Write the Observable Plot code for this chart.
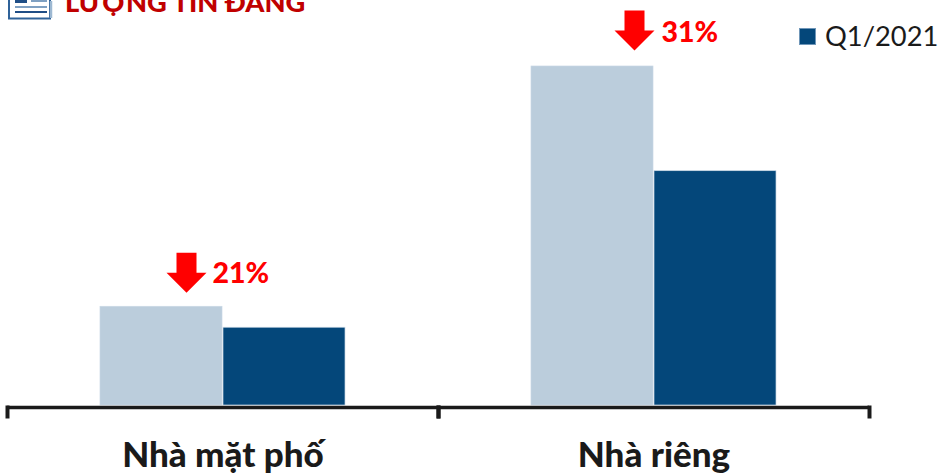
<!DOCTYPE html>
<html><head><meta charset="utf-8">
<script src="https://cdn.jsdelivr.net/npm/d3@7"></script>
<script src="https://cdn.jsdelivr.net/npm/@observablehq/plot@0.6"></script>
<style>
html,body{margin:0;padding:0;background:#fff;overflow:hidden}
#wrap{position:relative;width:943px;height:475px;overflow:hidden}
svg{display:block}
#title{position:absolute;left:65px;top:-14px;font:900 27.3px/32px Lato,"Noto Sans",sans-serif;color:#c00000;white-space:nowrap}
#legend{position:absolute;left:799px;top:19px;display:flex;align-items:center;font:27.3px/34px Lato,"Noto Sans",sans-serif;color:#1a1a1a;white-space:nowrap}
#legend i{display:block;width:15px;height:15px;background:#04477a;border:1px solid #6f96b8;margin-right:9px}
#icon{position:absolute;left:8px;top:-5px}
</style></head><body>
<div id="wrap">
<div id="chart"></div>
<svg id="icon" width="46" height="25" viewBox="0 0 46 25">
  <rect x="1" y="0" width="41" height="23.5" fill="#fff" stroke="#2f6299" stroke-width="2"/>
  <path d="M43 6v17" stroke="#9db8d2" stroke-width="2.5"/>
  <rect x="7" y="4" width="12" height="4" fill="#1f4e86"/>
  <path d="M23 6h16" stroke="#7fa0c2" stroke-width="2"/>
  <path d="M7 12h32" stroke="#7fa0c2" stroke-width="2"/>
  <path d="M7 17h32" stroke="#1f4e86" stroke-width="2"/>
</svg>
<div id="title">LƯỢNG TIN ĐĂNG</div>
<div id="legend"><i></i>Q1/2021</div>
</div>
<script>
const categories = ["Nhà mặt phố", "Nhà riêng"];
const periods = ["Kỳ trước", "Q1/2021"];
const previousValues = [99, 340];
const currentValues = [78, 235];
const changeLabels = ["21%", "31%"];
const periodColors = ["#bbcddc", "#04477a"];

const font = 'Lato, "Noto Sans", sans-serif';
const rows = categories.flatMap((c, i) => [
  {category: c, period: periods[0], value: previousValues[i]},
  {category: c, period: periods[1], value: currentValues[i]}
]);
const changes = categories.map((c, i) => ({
  category: c, period: periods[0], value: previousValues[i], label: changeLabels[i]
}));

const arrowSymbol = {draw(ctx) {
  ctx.moveTo(-10, -20); ctx.lineTo(10, -20); ctx.lineTo(10, 0); ctx.lineTo(20, 0);
  ctx.lineTo(0, 20); ctx.lineTo(-20, 0); ctx.lineTo(-10, 0); ctx.closePath();
}};
const tickSymbol = {draw(ctx) {
  ctx.moveTo(-2, 0); ctx.lineTo(2, 0); ctx.lineTo(2, 13); ctx.lineTo(-2, 13); ctx.closePath();
}};
const axisInk = "#1a1a1a";

function changeMarks(category, arrowDx, arrowDy, textDx, textDy) {
  const data = changes.filter(d => d.category === category);
  return [
    Plot.dot(data, {fx: "category", x: "period", y: "value", symbol: arrowSymbol, r: 20, fill: "#ff0000", stroke: null, dx: arrowDx, dy: arrowDy}),
    Plot.text(data, {fx: "category", x: "period", y: "value", text: "label", fill: "#ff0000", fontSize: 28.5, fontWeight: 900, fontFamily: font, textAnchor: "start", dx: textDx, dy: textDy})
  ];
}

const plot = Plot.plot({
  width: 943, height: 475,
  marginTop: 0, marginBottom: 70, marginLeft: 7, marginRight: 74,
  style: {background: "transparent"},
  fx: {domain: categories, padding: 0, label: null},
  x: {domain: periods, paddingInner: 0.008, paddingOuter: 0.745, axis: null, label: null},
  y: {domain: [0, 340], range: [405, 66], axis: null, label: null},
  color: {domain: periods, range: periodColors},
  marks: [
    Plot.barY(rows, {fx: "category", x: "period", y: "value", fill: "period", stroke: "#c9d8e5", strokeWidth: 0.7, insetLeft: 0, insetRight: 0}),
    Plot.ruleY(categories, {fx: d => d, y: () => 0, stroke: axisInk, strokeWidth: 3.5, dy: 2}),
    Plot.dot(categories, {fx: d => d, frameAnchor: "bottom-left", symbol: tickSymbol, r: 5, fill: axisInk, stroke: null}),
    Plot.dot(categories, {fx: d => d, frameAnchor: "bottom-right", symbol: tickSymbol, r: 5, fill: axisInk, stroke: null}),
    ...changeMarks(categories[0], 25, -34, 51, -33),
    ...changeMarks(categories[1], 42, -36, 69, -34),
    Plot.axisFx({anchor: "bottom", tickSize: 0, tickPadding: 37, fontSize: 35, fontWeight: 900, fontFamily: font, fill: "#1a1a1a", label: null})
  ]
});
document.getElementById("chart").append(plot);
</script>
</body></html>
